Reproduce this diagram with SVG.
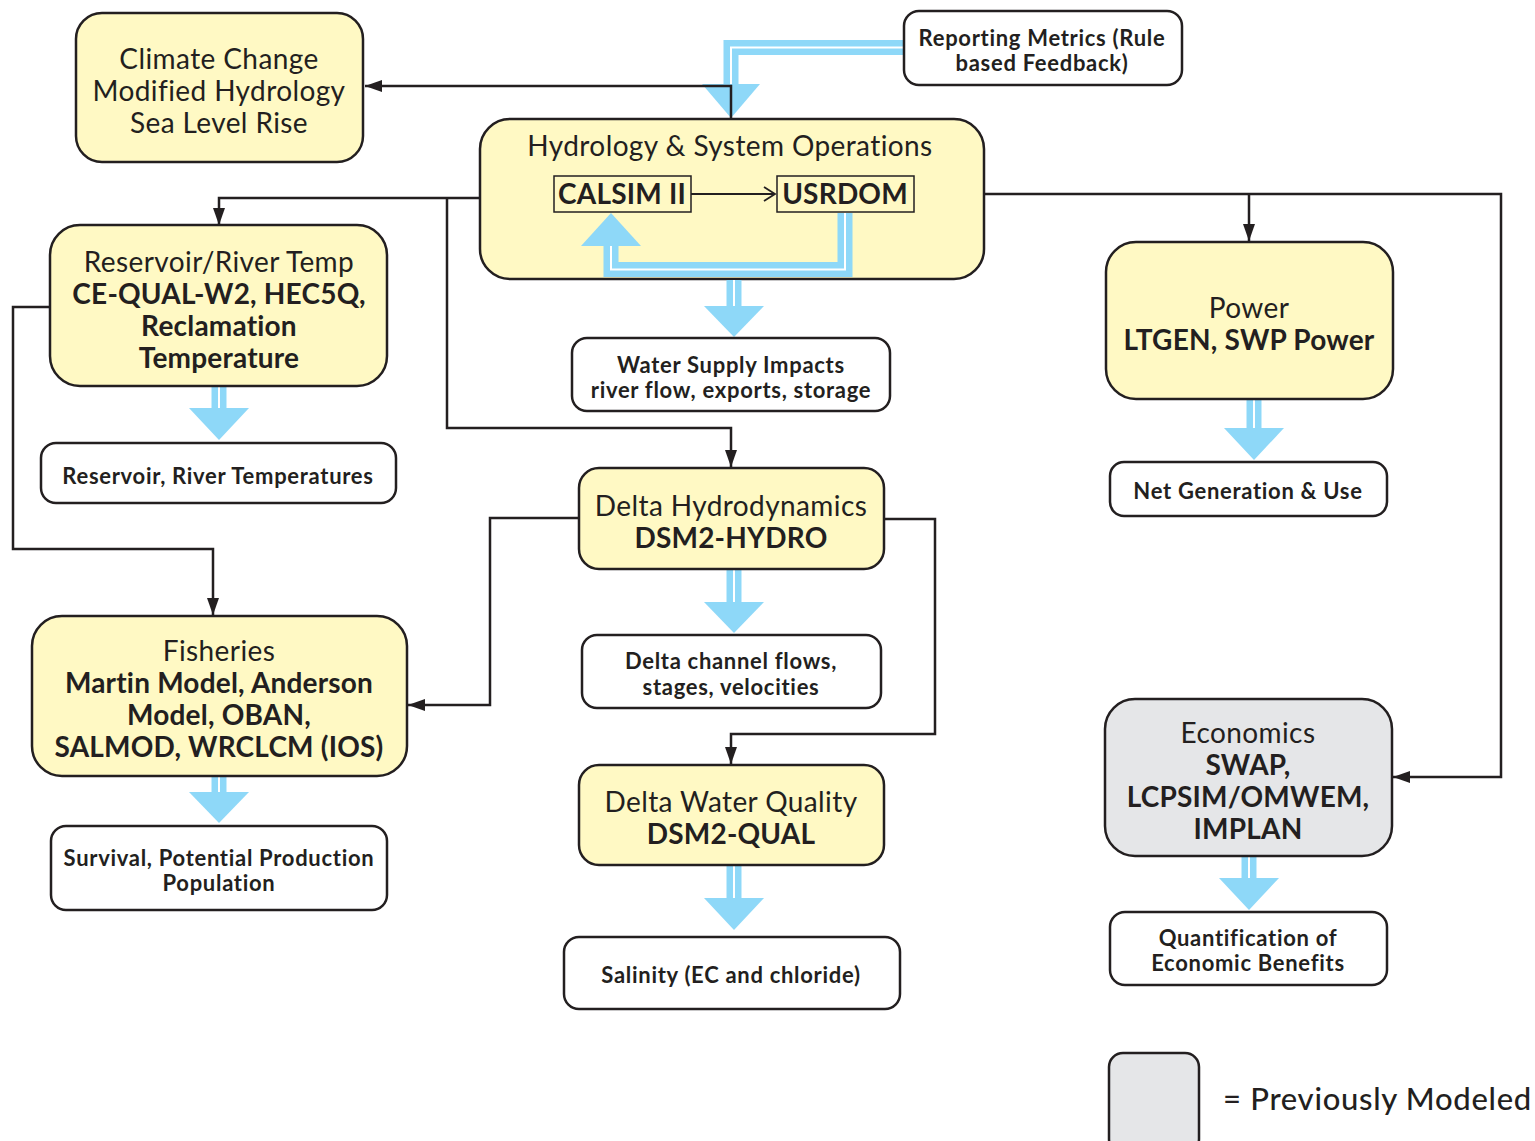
<svg xmlns="http://www.w3.org/2000/svg" width="1535" height="1141" viewBox="0 0 1535 1141">
<defs>
<style>
.node{fill:#fff9c4;stroke:#231f20;stroke-width:2.5}
.grey{fill:#e5e6e8;stroke:#231f20;stroke-width:2.5}
.out{fill:#ffffff;stroke:#231f20;stroke-width:2.5}
.inner{fill:none;stroke:#231f20;stroke-width:1.5}
text{font-family:Lato,"Open Sans","Liberation Sans",sans-serif;fill:#231f20;text-anchor:middle}
.t{font-size:28px;letter-spacing:0.4px}
.b{font-size:28px;font-weight:bold;letter-spacing:0.2px}
.s{font-size:22px;font-weight:bold;letter-spacing:0.7px}
.conn{fill:none;stroke:#231f20;stroke-width:2.5}
.bshaft{fill:none;stroke:#8ed8f8;stroke-width:15}
.bwhite{fill:none;stroke:#ffffff;stroke-width:2}
.bhead{fill:#8ed8f8}
</style>
<marker id="ah" markerUnits="userSpaceOnUse" markerWidth="18" markerHeight="14" refX="17" refY="6" orient="auto">
<path d="M0,0 L17,6 L0,12 Z" fill="#231f20"/>
</marker>
<marker id="oh" markerUnits="userSpaceOnUse" markerWidth="14" markerHeight="16" refX="12" refY="8" orient="auto">
<path d="M1,1 L12,8 L1,15" fill="none" stroke="#231f20" stroke-width="1.8"/>
</marker>
</defs>
<rect width="1535" height="1141" fill="#ffffff"/>

<g id="blue-arrows">
<path class="bshaft" d="M904,47.5 H731 V84"/>
<path class="bwhite" d="M904,47.5 H731 V84"/>
<polygon class="bhead" points="702,84 760,84 731,118"/>
</g>

<g id="connectors">
<path class="conn" d="M731,119 V86 H365" marker-end="url(#ah)"/>
<path class="conn" d="M480,198 H219 V225" marker-end="url(#ah)"/>
<path class="conn" d="M447,198 V428 H731 V467" marker-end="url(#ah)"/>
<path class="conn" d="M50,307 H13 V549 H213 V615" marker-end="url(#ah)"/>
<path class="conn" d="M984,194 H1501 V777 H1393" marker-end="url(#ah)"/>
<path class="conn" d="M1249,194 V241" marker-end="url(#ah)"/>
<path class="conn" d="M579,518 H490 V705 H408" marker-end="url(#ah)"/>
<path class="conn" d="M884,519 H935 V734 H731 V764" marker-end="url(#ah)"/>
</g>

<g id="climate">
<rect class="node" x="76" y="13" width="287" height="149" rx="26"/>
<text class="t" x="219" y="69">Climate Change</text>
<text class="t" x="219" y="101">Modified Hydrology</text>
<text class="t" x="219" y="133">Sea Level Rise</text>
</g>

<g id="reporting">
<rect class="out" x="904" y="11" width="278" height="74" rx="15"/>
<text class="s" x="1042" y="46">Reporting Metrics (Rule</text>
<text class="s" x="1042" y="71">based Feedback)</text>
</g>

<g id="hydrology">
<rect class="node" x="480" y="119" width="504" height="160" rx="30"/>
<text class="t" x="730" y="156">Hydrology &amp; System Operations</text>
<rect class="inner" x="554" y="176" width="137" height="36"/>
<text class="b" x="622" y="204">CALSIM II</text>
<rect class="inner" x="777" y="176" width="137" height="36"/>
<text class="b" x="845" y="204">USRDOM</text>
<path class="conn" d="M691,194 H775" style="stroke-width:1.8" marker-end="url(#oh)"/>
<path class="bshaft" d="M845,213 V269.5 H611 V246"/>
<path class="bwhite" d="M845,213 V269.5 H611 V246"/>
<polygon class="bhead" points="581,246 641,246 611,213"/>
</g>

<g id="blue-arrows-2">
<path class="bshaft" d="M734,280 V306"/><path class="bwhite" d="M734,280 V306"/>
<polygon class="bhead" points="704,306 764,306 734,337"/>
<path class="bshaft" d="M219,387 V408"/><path class="bwhite" d="M219,387 V408"/>
<polygon class="bhead" points="189,408 249,408 219,440"/>
<path class="bshaft" d="M1254,400 V428"/><path class="bwhite" d="M1254,400 V428"/>
<polygon class="bhead" points="1224,428 1284,428 1254,460"/>
<path class="bshaft" d="M734,570 V602"/><path class="bwhite" d="M734,570 V602"/>
<polygon class="bhead" points="704,602 764,602 734,633"/>
<path class="bshaft" d="M219,777 V792"/><path class="bwhite" d="M219,777 V792"/>
<polygon class="bhead" points="189,792 249,792 219,823"/>
<path class="bshaft" d="M734,866 V898"/><path class="bwhite" d="M734,866 V898"/>
<polygon class="bhead" points="704,898 764,898 734,930"/>
<path class="bshaft" d="M1249,857 V878"/><path class="bwhite" d="M1249,857 V878"/>
<polygon class="bhead" points="1219,878 1279,878 1249,910"/>
</g>

<g id="water-supply">
<rect class="out" x="572" y="338" width="318" height="73" rx="15"/>
<text class="s" x="731" y="373">Water Supply Impacts</text>
<text class="s" x="731" y="398">river flow, exports, storage</text>
</g>

<g id="reservoir">
<rect class="node" x="50" y="225" width="337" height="161" rx="30"/>
<text class="t" x="219" y="272">Reservoir/River Temp</text>
<text class="b" x="219" y="304">CE-QUAL-W2, HEC5Q,</text>
<text class="b" x="219" y="336">Reclamation</text>
<text class="b" x="219" y="368">Temperature</text>
</g>

<g id="reservoir-out">
<rect class="out" x="41" y="443" width="355" height="60" rx="15"/>
<text class="s" x="218" y="484">Reservoir, River Temperatures</text>
</g>

<g id="power">
<rect class="node" x="1106" y="242" width="287" height="157" rx="30"/>
<text class="t" x="1249" y="318">Power</text>
<text class="b" x="1249" y="350">LTGEN, SWP Power</text>
</g>

<g id="net-gen">
<rect class="out" x="1110" y="462" width="277" height="54" rx="14"/>
<text class="s" x="1248" y="499">Net Generation &amp; Use</text>
</g>

<g id="delta-hydro">
<rect class="node" x="579" y="468" width="305" height="101" rx="20"/>
<text class="t" x="731" y="516">Delta Hydrodynamics</text>
<text class="b" x="731" y="548">DSM2-HYDRO</text>
</g>

<g id="delta-flows">
<rect class="out" x="582" y="635" width="299" height="73" rx="15"/>
<text class="s" x="731" y="669">Delta channel flows,</text>
<text class="s" x="731" y="695">stages, velocities</text>
</g>

<g id="fisheries">
<rect class="node" x="32" y="616" width="375" height="160" rx="30"/>
<text class="t" x="219" y="661">Fisheries</text>
<text class="b" x="219" y="693">Martin Model, Anderson</text>
<text class="b" x="219" y="725">Model, OBAN,</text>
<text class="b" x="219" y="757">SALMOD, WRCLCM (IOS)</text>
</g>

<g id="survival">
<rect class="out" x="51" y="826" width="336" height="84" rx="15"/>
<text class="s" x="219" y="866">Survival, Potential Production</text>
<text class="s" x="219" y="891">Population</text>
</g>

<g id="delta-wq">
<rect class="node" x="579" y="765" width="305" height="100" rx="20"/>
<text class="t" x="731" y="812">Delta Water Quality</text>
<text class="b" x="731" y="844">DSM2-QUAL</text>
</g>

<g id="salinity">
<rect class="out" x="564" y="937" width="336" height="72" rx="15"/>
<text class="s" x="731" y="983">Salinity (EC and chloride)</text>
</g>

<g id="economics">
<rect class="grey" x="1105" y="699" width="287" height="157" rx="30"/>
<text class="t" x="1248" y="743">Economics</text>
<text class="b" x="1248" y="775">SWAP,</text>
<text class="b" x="1248" y="807">LCPSIM/OMWEM,</text>
<text class="b" x="1248" y="839">IMPLAN</text>
</g>

<g id="quantification">
<rect class="out" x="1110" y="912" width="277" height="73" rx="15"/>
<text class="s" x="1248" y="946">Quantification of</text>
<text class="s" x="1248" y="971">Economic Benefits</text>
</g>

<g id="legend">
<rect class="grey" x="1109" y="1053" width="90" height="100" rx="14"/>
<text x="1223" y="1110" style="font-size:31px;font-weight:500;letter-spacing:0.7px;text-anchor:start">= Previously Modeled</text>
</g>
</svg>
